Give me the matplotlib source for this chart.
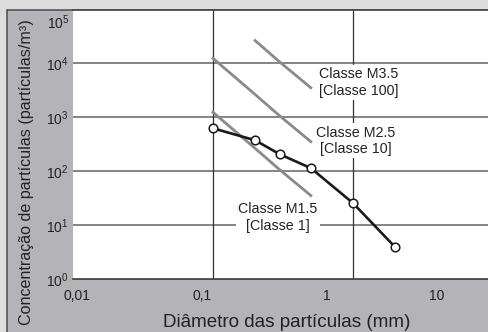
import matplotlib
matplotlib.use('Agg')
import matplotlib.pyplot as plt
from matplotlib.patches import Rectangle
from matplotlib.transforms import blended_transform_factory

plt.rcParams['font.family'] = ['Liberation Sans', 'DejaVu Sans']
plt.rcParams['mathtext.fontset'] = 'custom'
plt.rcParams['mathtext.rm'] = 'Liberation Sans'
plt.rcParams['mathtext.it'] = 'Liberation Sans'

# classes (particulas/m3) por diametro
d_m15 = [0.1, 0.2, 0.3, 0.5]
n_m15 = [1240, 265, 106, 35.3]
d_m25 = [0.1, 0.2, 0.3, 0.5]
n_m25 = [12400, 2650, 1060, 353]
d_m35 = [0.2, 0.3, 0.5]
n_m35 = [26500, 10600, 3530]

# curva medida
d_med = [0.1, 0.2, 0.3, 0.5, 1.0, 2.0]
n_med = [626, 375, 206, 114, 25.6, 3.9]

xtick_labels = ['0,01', '0,1', '1', '10']
ytick_vals = [1, 10, 100, 1000, 10000]
ytick_labels = ['$10^{0}$', '$10^{1}$', '$10^{2}$', '$10^{3}$', '$10^{4}$']
ytop_label = '$10^{5}$'

W, H = 488, 332
fig = plt.figure(figsize=(W / 100, H / 100), dpi=100)
fig.patch.set_facecolor('#dddddd')

# painel cinza com moldura
fig.patches.append(Rectangle((6.5 / W, -0.05), 1.1, (H - 9.5) / H + 0.05,
                             transform=fig.transFigure, facecolor='#b4b4b8',
                             edgecolor='#4a4a4a', lw=1.1, zorder=-1))

ax = fig.add_axes([73 / W, (H - 279) / H, (W - 73) / W, (279 - 9.5) / H])
ax.set_zorder(2)
ax.set_facecolor('white')
ax.set_xscale('log')
ax.set_yscale('log')
ax.set_xlim(0.01, 10 ** (-2 + (W - 73) / 140))
ax.set_ylim(1, 1e5)

txt = '#222222'
ax.set_yticks(ytick_vals)
ax.set_yticklabels(ytick_labels)
ax.yaxis.set_minor_locator(matplotlib.ticker.NullLocator())
ax.set_xticks([0.0106, 0.0834, 0.652, 3.98])
ax.set_xticklabels(xtick_labels)
ax.xaxis.set_minor_locator(matplotlib.ticker.NullLocator())
ax.tick_params(axis='both', length=0, labelsize=10, colors=txt)
ax.tick_params(axis='x', pad=7.5)
ax.tick_params(axis='y', pad=3)
# 10^5 fica abaixo do topo
ax.text(-3 / 415, 10 ** ((279 - 22) / 54), ytop_label, ha='right', va='center',
        fontsize=10, color=txt,
        transform=blended_transform_factory(ax.transAxes, ax.transData))

for s in ['left', 'right']:
    ax.spines[s].set_visible(False)
ax.spines['bottom'].set_color('#3a3a3a')
ax.spines['bottom'].set_linewidth(1.2)
ax.spines['top'].set_color('#4a4a4a')
ax.spines['top'].set_linewidth(1.3)

for v in ytick_vals[1:]:
    ax.axhline(v, color='#707070', lw=1.2, zorder=1)
for v in [0.1, 1.0]:
    ax.axvline(v, color='#333333', lw=0.9, zorder=1)

cinza = '#8a8a8a'
ax.plot(d_m15, n_m15, color=cinza, lw=2.0, zorder=3)
ax.plot(d_m25, n_m25, color=cinza, lw=2.0, zorder=3)
ax.plot(d_m35, n_m35, color=cinza, lw=2.0, zorder=3)
ax.plot(d_med, n_med, color='#1a1a1a', lw=1.9, marker='o', ms=6.2,
        mfc='white', mec='#1a1a1a', mew=1.1, zorder=5)

box = dict(boxstyle='square,pad=0.15', facecolor='white', edgecolor='none')
ax.text(1.10, 4450, 'Classe M3.5\n[Classe 100]', ha='center', va='center',
        fontsize=10.3, color=txt, linespacing=1.22, bbox=box, zorder=4)
ax.text(1.05, 367, 'Classe M2.5\n[Classe 10]', ha='center', va='center',
        fontsize=10.3, color=txt, linespacing=1.22, bbox=box, zorder=4)
ax.text(0.291, 13.8, 'Classe M1.5\n[Classe 1]', ha='center', va='center',
        fontsize=10.3, color=txt, linespacing=1.22, bbox=box, zorder=4)

fig.text(287 / W, 5 / H, 'Diâmetro das partículas (mm)', ha='center',
         va='baseline', fontsize=13.6, color=txt)
fig.text(26.5 / W, (H - 172.5) / H, 'Concentração de partículas (partículas/m³)',
         rotation=90, ha='center', va='center', fontsize=11.6, color=txt)

fig.savefig('out.png', dpi=100, facecolor=fig.get_facecolor())
